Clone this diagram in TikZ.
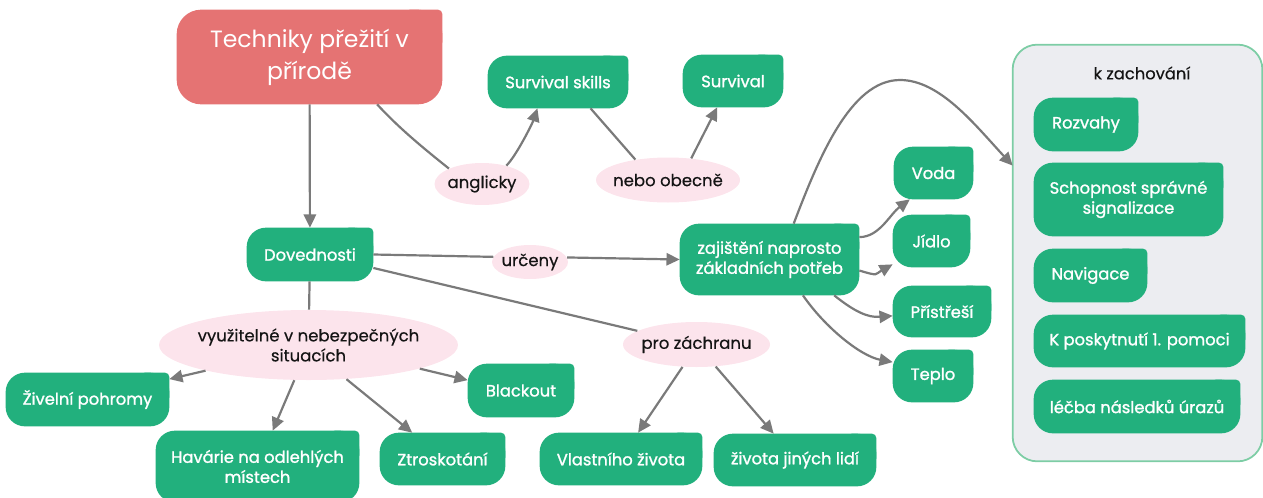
\documentclass[tikz,border=0pt]{standalone}
\usepackage{fontspec}
\setmainfont{Poppins}
\newfontfamily\gfont{Poppins}[FakeBold=1.3]
\newfontfamily\lfont{Poppins}[FakeBold=0.4]
\usetikzlibrary{arrows.meta,backgrounds,shapes.geometric}
\definecolor{gcol}{RGB}{34,176,125}
\definecolor{rcol}{RGB}{229,115,115}
\definecolor{pcol}{RGB}{252,228,236}
\definecolor{kfill}{RGB}{236,237,241}
\definecolor{kline}{RGB}{125,205,165}
\definecolor{acol}{RGB}{122,122,122}
\definecolor{tcol}{RGB}{20,20,20}
\newcommand{\uu}{0.02cm}
\newcommand{\boxbg}[3]{%
  \fill[#2,rounded corners=#3] (#1.south west) rectangle (#1.north east);
  \fill[#2,rounded corners=2.5pt] (#1.north east) rectangle ([xshift=-1.5*#3,yshift=-1.5*#3]#1.north east);}
\tikzset{
  sz/.style 2 args={minimum width=#1*\uu, minimum height=#2*\uu},
  gbox/.style={rectangle, inner sep=0pt, text=white, font=\gfont\fontsize{9.3}{11.4}\selectfont, align=center},
  lab/.style={ellipse, fill=pcol, inner xsep=-30pt, inner ysep=-10pt, text=tcol, font=\lfont\fontsize{9.4}{11.4}\selectfont, align=center},
  ln/.style={draw=acol, line width=1.25pt},
  arr/.style={draw=acol, line width=1.25pt, -{Triangle[length=7.5pt,width=7pt]}}}
\begin{document}
\begin{tikzpicture}[x=0.02cm,y=-0.02cm]
\useasboundingbox (0,0) rectangle (1263,497);

% container
\node[rectangle, inner sep=0pt, sz={249}{416}] (kz) at (1137.5,253) {};
\node[text=tcol, font=\lfont\fontsize{9.3}{11.4}\selectfont, inner sep=0pt] (kzt) at (1142,73) {k zachování};

% title
\node[gbox, sz={265}{94}, font=\fontsize{13.4}{18.2}\selectfont] (title) at (309.5,57) {Techniky přežití v\\přírodě};

% green boxes
\node[gbox, sz={140}{52}] (ss) at (558,82) {Survival skills};
\node[gbox, sz={100}{52}] (sv) at (733,81) {Survival};
\node[gbox, sz={126}{53}] (dov) at (310,254.5) {Dovednosti};
\node[gbox, sz={179}{71}] (zaj) at (769.5,259.5) {zajištění naprosto\\základních potřeb};
\node[gbox, sz={79}{52}] (vd) at (933.5,173) {Voda};
\node[gbox, sz={77}{52}] (jd) at (931.5,241) {Jídlo};
\node[gbox, sz={98}{51}] (pr) at (942,311.5) {Přístřeší};
\node[gbox, sz={80}{52}] (tp) at (933,376) {Teplo};
\node[gbox, sz={104}{53}] (rz) at (1086,124.5) {Rozvahy};
\node[gbox, sz={189}{73}] (sch) at (1128.5,199.5) {Schopnost správné\\signalizace};
\node[gbox, sz={113}{53}] (nav) at (1090.5,275.5) {Navigace};
\node[gbox, sz={211}{52}] (kp) at (1139.5,341) {K poskytnutí 1. pomoci};
\node[gbox, sz={206}{53}] (lec) at (1137,406.5) {léčba následků úrazů};
\node[gbox, sz={163}{53}] (zv) at (87.5,399.5) {Živelní pohromy};
\node[gbox, sz={203}{71}] (hv) at (257.5,466.5) {Havárie na odlehlých\\místech};
\node[gbox, sz={125}{52}] (zt) at (442.5,459) {Ztroskotání};
\node[gbox, sz={106}{53}] (bl) at (521,390.5) {Blackout};
\node[gbox, sz={162}{52}] (vl) at (621,459) {Vlastního života};
\node[gbox, sz={162}{52}] (zj) at (795,460) {života jiných lidí};

% pink labels
\node[lab, sz={95}{42}] (ang) at (482,184) {anglicky};
\node[lab, sz={144}{45}] (nb) at (668,180) {nebo obecně};
\node[lab, sz={76}{34}] (ur) at (530,262) {určeny};
\node[lab, sz={299}{70}] (vy) at (308.5,345) {využitelné v nebezpečných\\situacích};
\node[lab, sz={147}{45}] (pz) at (696.5,344.5) {pro záchranu};

\begin{scope}[on background layer]
  \fill[kfill, draw=kline, line width=1pt, rounded corners=14pt] (kz.south west) rectangle (kz.north east);
  \boxbg{title}{rcol}{14pt}
  \foreach \n in {ss,sv,dov,zaj,vd,jd,pr,tp,rz,sch,nav,kp,lec,zv,hv,zt,bl,vl,zj}{\boxbg{\n}{gcol}{11pt}}
\end{scope}

% connectors
\draw[arr] (title) -- (dov);
\draw[ln] (title.-35.5) .. controls +(22,24) and +(-25,-20) .. (ang.155);
\draw[arr] (ang.37) .. controls +(10,-10) and +(-5,15) .. (ss.-128);
\draw[ln] (ss.-39) -- (nb.148);
\draw[arr] (nb.43) -- (sv.-121.6);
\draw[ln] (dov.east) -- (ur.172);
\draw[arr] (ur.7) -- (zaj.west);
\draw[ln] (dov.-12.5) -- (pz.167);
\draw[arr] (pz.-122) -- (vl.57);
\draw[arr] (pz.-49) -- (zj.129);
\draw[ln] (dov) -- (vy);
\draw[arr] (vy.-166) -- (zv.14.5);
\draw[arr] (vy.-112) -- (hv.67);
\draw[arr] (vy.-42) -- (zt.139);
\draw[arr] (vy.-12) -- (bl.169);
\draw[arr] (zaj.14.3) .. controls +(20,0) and +(-20,15) .. (vd.-132.6);
\draw[arr] (zaj.-7.6) .. controls +(20,6) and +(-18,10) .. (jd.-149);
\draw[arr] (zaj.-29) .. controls +(20,16) and +(-25,2) .. (pr.-175);
\draw[arr] (zaj.-47.6) .. controls +(22,32) and +(-32,-6) .. (tp.161);
\coordinate (peak) at (900,80);
\draw[arr] (zaj.56.5) .. controls (818,160) and (850,80) .. (peak) .. controls (940,80) and (975,125) .. (kz.145.4);
\end{tikzpicture}
\end{document}
